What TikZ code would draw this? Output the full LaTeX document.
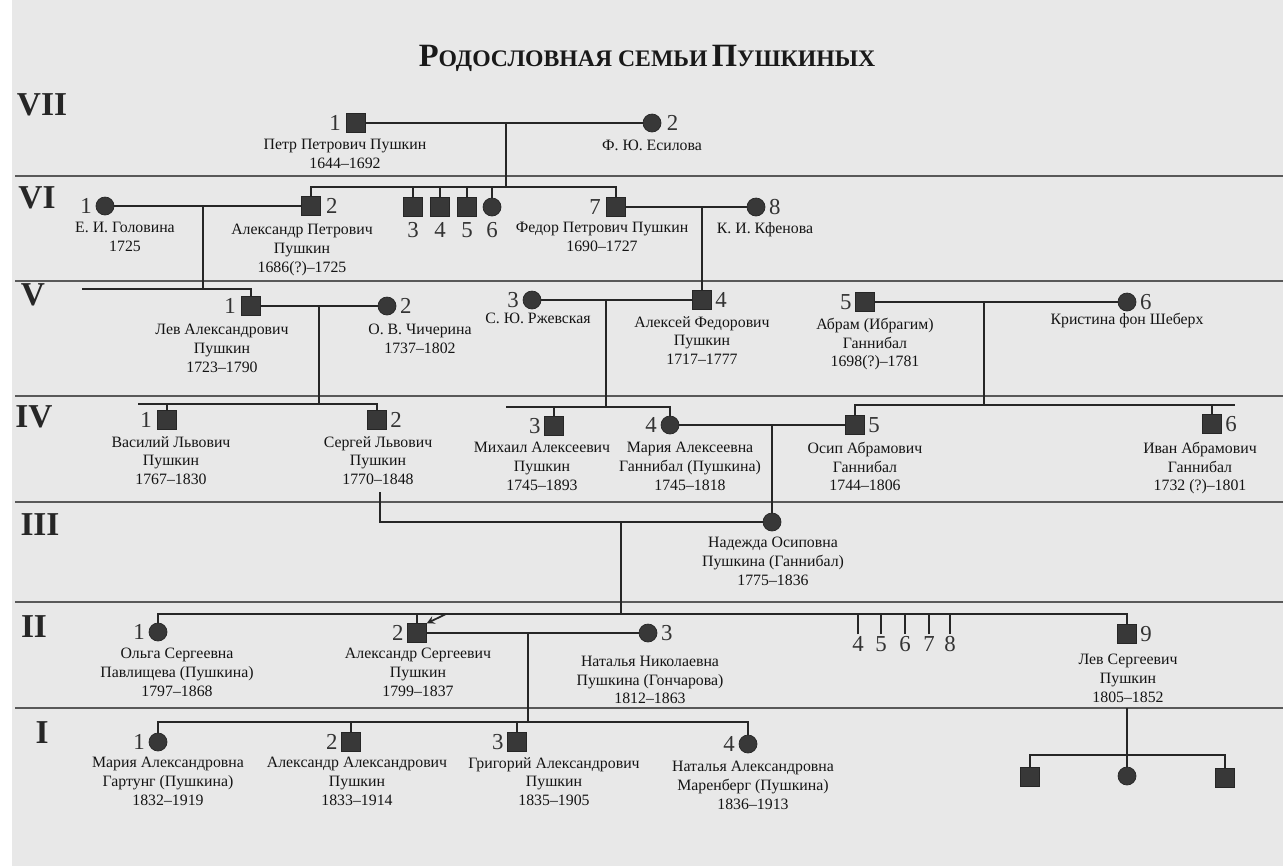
\documentclass[tikz,border=0pt]{standalone}
\usepackage{fontspec}
\setmainfont{Liberation Serif}
\usetikzlibrary{arrows,positioning,calc}

\newcommand{\tcap}[2]{{\fontsize{18.5}{20}\selectfont #1}{\fontsize{13.5}{15}\selectfont #2}}

\begin{document}
\begin{tikzpicture}[x=0.02cm,y=-0.02cm,
  male/.style={draw=black!85,fill=black!78,minimum size=0.37cm,inner sep=0pt},
  female/.style={circle,draw=black!85,fill=black!78,minimum size=0.36cm,inner sep=0pt},
  nm/.style={font=\fontsize{9}{10.6}\selectfont,align=center,anchor=north,inner sep=0pt,text=black!92},
  num/.style={font=\fontsize{13}{15}\selectfont,inner sep=1pt,text=black!80},
  gen/.style={font=\fontsize{19}{22}\selectfont\bfseries,text=black!85},
  sep/.style={black!65,line width=0.8pt},
  ln/.style={black!85,line width=1.3pt}]

\useasboundingbox (0,0) rectangle (1283,866);
\fill[black!9] (0,0) rectangle (1283,866);
\fill[white] (0,0) rectangle (12,866);

\node[text=black!90] (title) at (647,58) {\bfseries\tcap{Р}{ОДОСЛОВНАЯ СЕМЬИ} \tcap{П}{УШКИНЫХ}};

% generations
\draw[sep] (15,176) -- (1283,176);
\draw[sep] (15,281) -- (1283,281);
\draw[sep] (15,396) -- (1283,396);
\draw[sep] (15,502) -- (1283,502);
\draw[sep] (15,602) -- (1283,602);
\draw[sep] (15,708) -- (1283,708);

\node[gen] (gVII) at (42,105) {VII};
\node[gen] (gVI) at (37,198) {VI};
\node[gen] (gV) at (33,295) {V};
\node[gen] (gIV) at (34,417) {IV};
\node[gen] (gIII) at (40,525) {III};
\node[gen] (gII) at (34,627) {II};
\node[gen] (gI) at (42,733) {I};

% VII
\node[male] (p71) at (356,123) {};
\node[num,left=2pt of p71] {1};
\node[nm] (n71) at (345,139) {Петр Петрович Пушкин\\1644–1692};
\node[female] (p72) at (652,123) {};
\node[num,right=2pt of p72] {2};
\node[nm] (n72) at (652,140) {Ф. Ю. Есилова};
\coordinate (d7) at (506,123);
\draw[ln] (p71) -- (p72);

% VI
\node[female] (p61) at (105,206) {};
\node[num,left=1pt of p61] {1};
\node[nm] (n61) at (125,222) {Е. И. Головина\\1725};
\node[male] (p62) at (311,206) {};
\node[num,right=2pt of p62] {2};
\node[nm] (n62) at (302,224) {Александр Петрович\\Пушкин\\1686(?)–1725};
\node[male] (p63) at (413,207) {};
\node[num,below=2pt of p63] {3};
\node[male] (p64) at (440,207) {};
\node[num,below=2pt of p64] {4};
\node[male] (p65) at (467,207) {};
\node[num,below=2pt of p65] {5};
\node[female] (p66) at (492,207) {};
\node[num,below=2pt of p66] {6};
\node[male] (p67) at (616,207) {};
\node[num,left=2pt of p67] {7};
\node[nm] (n67) at (602,222) {Федор Петрович Пушкин\\1690–1727};
\node[female] (p68) at (756,207) {};
\node[num,right=1pt of p68] {8};
\node[nm] (n68) at (765,222) {К. И. Кфенова};

\coordinate (s6) at (506,187);
\draw[ln] (d7) -- (s6);
\draw[ln] (p62) |- (s6) -| (p67);
\draw[ln] (p63) -- (p63 |- s6);
\draw[ln] (p64) -- (p64 |- s6);
\draw[ln] (p65) -- (p65 |- s6);
\draw[ln] (p66) -- (p66 |- s6);
\draw[ln] (p61) -- (p62);
\draw[ln] (p67) -- (p68);
\coordinate (d61) at (203,206);
\coordinate (d67) at (702,207);

% V
\node[male] (p51) at (251,306) {};
\node[num,left=2pt of p51] {1};
\node[nm] (n51) at (222,324) {Лев Александрович\\Пушкин\\1723–1790};
\node[female] (p52) at (387,306) {};
\node[num,right=1pt of p52] {2};
\node[nm] (n52) at (420,324) {О. В. Чичерина\\1737–1802};
\coordinate (s5) at (82,289);
\draw[ln] (d61) -- (d61 |- s5);
\draw[ln] (s5) -| (p51);
\draw[ln] (p51) -- (p52);
\coordinate (d51) at (319,306);

\node[female] (p53) at (532,300) {};
\node[num,left=1pt of p53] {3};
\node[nm] (n53) at (538,313) {С. Ю. Ржевская};
\node[male] (p54) at (702,300) {};
\node[num,right=1pt of p54] {4};
\node[nm] (n54) at (702,316) {Алексей Федорович\\Пушкин\\1717–1777};
\draw[ln] (d67) -- (p54);
\draw[ln] (p53) -- (p54);
\coordinate (d53) at (606,300);

\node[male] (p55) at (865,302) {};
\node[num,left=1pt of p55] {5};
\node[nm] (n55) at (875,318) {Абрам (Ибрагим)\\Ганнибал\\1698(?)–1781};
\node[female] (p56) at (1127,302) {};
\node[num,right=1pt of p56] {6};
\node[nm] (n56) at (1127,313) {Кристина фон Шеберх};
\draw[ln] (p55) -- (p56);
\coordinate (d55) at (984,302);

% IV
\coordinate (s41) at (138,404);
\draw[ln] (d51) -- (d51 |- s41);
\node[male] (p41) at (167,420) {};
\node[num,left=2pt of p41] {1};
\node[male] (p42) at (377,420) {};
\node[num,right=1pt of p42] {2};
\draw[ln] (s41) -| (p42);
\draw[ln] (p41) -- (p41 |- s41);
\node[nm] (n41) at (171,436) {Василий Львович\\Пушкин\\1767–1830};
\node[nm] (n42) at (378,436) {Сергей Львович\\Пушкин\\1770–1848};

\coordinate (s43) at (506,407);
\draw[ln] (d53) -- (d53 |- s43);
\node[male] (p43) at (554,426) {};
\node[num,left=1pt of p43] {3};
\node[female] (p44) at (670,425) {};
\node[num,left=1pt of p44] {4};
\draw[ln] (s43) -| (p44);
\draw[ln] (p43) -- (p43 |- s43);
\node[nm] (n43) at (542,442) {Михаил Алексеевич\\Пушкин\\1745–1893};
\node[nm] (n44) at (690,442) {Мария Алексеевна\\Ганнибал (Пушкина)\\1745–1818};

\node[male] (p45) at (855,425) {};
\node[num,right=1pt of p45] {5};
\node[male] (p46) at (1212,424) {};
\node[num,right=1pt of p46] {6};
\coordinate (s45) at (1235,405);
\draw[ln] (p45) |- (s45);
\draw[ln] (p46) -- (p46 |- s45);
\draw[ln] (d55) -- (d55 |- s45);
\draw[ln] (p44) -- (p45);
\node[nm] (n45) at (865,442) {Осип Абрамович\\Ганнибал\\1744–1806};
\node[nm] (n46) at (1200,442) {Иван Абрамович\\Ганнибал\\1732 (?)–1801};
\coordinate (d44) at (772,425);

% III
\node[female] (p31) at (772,522) {};
\draw[ln] (d44) -- (p31);
\node[nm] (n31) at (773,537) {Надежда Осиповна\\Пушкина (Ганнибал)\\1775–1836};
\coordinate (c42) at (380,492);
\draw[ln] (c42) |- (p31);
\coordinate (d31) at (621,522);

% II
\coordinate (s2) at (621,614);
\draw[ln] (d31) -- (s2);
\node[female] (p21) at (158,632) {};
\node[num,left=1pt of p21] {1};
\node[male] (p22) at (417,633) {};
\node[num,left=1pt of p22] {2};
\node[female] (p23) at (648,633) {};
\node[num,right=1pt of p23] {3};
\node[male] (p29) at (1127,634) {};
\node[num,right=1pt of p29] {9};
\draw[ln] (p21) |- (s2) -| (p29);
\draw[ln] (p22) -- (p22 |- s2);
\draw[ln] (p22) -- (p23);
\coordinate (ar) at (446,614);
\draw[ln,line width=1pt,-stealth] (ar) -- (p22.north east);

\node[num] (t4) at (858,644) {4};
\node[num] (t5) at (881,644) {5};
\node[num] (t6) at (905,644) {6};
\node[num] (t7) at (929,644) {7};
\node[num] (t8) at (950,644) {8};
\draw[ln] (t4) -- (t4 |- s2);
\draw[ln] (t5) -- (t5 |- s2);
\draw[ln] (t6) -- (t6 |- s2);
\draw[ln] (t7) -- (t7 |- s2);
\draw[ln] (t8) -- (t8 |- s2);

\node[nm] (n21) at (177,648) {Ольга Сергеевна\\Павлищева (Пушкина)\\1797–1868};
\node[nm] (n22) at (418,648) {Александр Сергеевич\\Пушкин\\1799–1837};
\node[nm] (n23) at (650,656) {Наталья Николаевна\\Пушкина (Гончарова)\\1812–1863};
\node[nm] (n29) at (1128,654) {Лев Сергеевич\\Пушкин\\1805–1852};
\coordinate (d22) at (528,633);

% I
\coordinate (s1) at (528,722);
\draw[ln] (d22) -- (s1);
\node[female] (p11) at (158,742) {};
\node[num,left=1pt of p11] {1};
\node[male] (p12) at (351,742) {};
\node[num,left=1pt of p12] {2};
\node[male] (p13) at (517,742) {};
\node[num,left=1pt of p13] {3};
\node[female] (p14) at (748,744) {};
\node[num,left=1pt of p14] {4};
\draw[ln] (p11) |- (s1) -| (p14);
\draw[ln] (p12) -- (p12 |- s1);
\draw[ln] (p13) -- (p13 |- s1);
\node[nm] (n11) at (168,757) {Мария Александровна\\Гартунг (Пушкина)\\1832–1919};
\node[nm] (n12) at (357,757) {Александр Александрович\\Пушкин\\1833–1914};
\node[nm] (n13) at (554,757) {Григорий Александрович\\Пушкин\\1835–1905};
\node[nm] (n14) at (753,761) {Наталья Александровна\\Маренберг (Пушкина)\\1836–1913};

\coordinate (c29) at (1127,708);
\coordinate (s0) at (1127,755);
\draw[ln] (c29) -- (s0);
\node[male] (p01) at (1030,777) {};
\node[female] (p02) at (1127,776) {};
\node[male] (p03) at (1225,778) {};
\draw[ln] (p01) |- (s0) -| (p03);
\draw[ln] (p02) -- (s0);

\end{tikzpicture}
\end{document}
